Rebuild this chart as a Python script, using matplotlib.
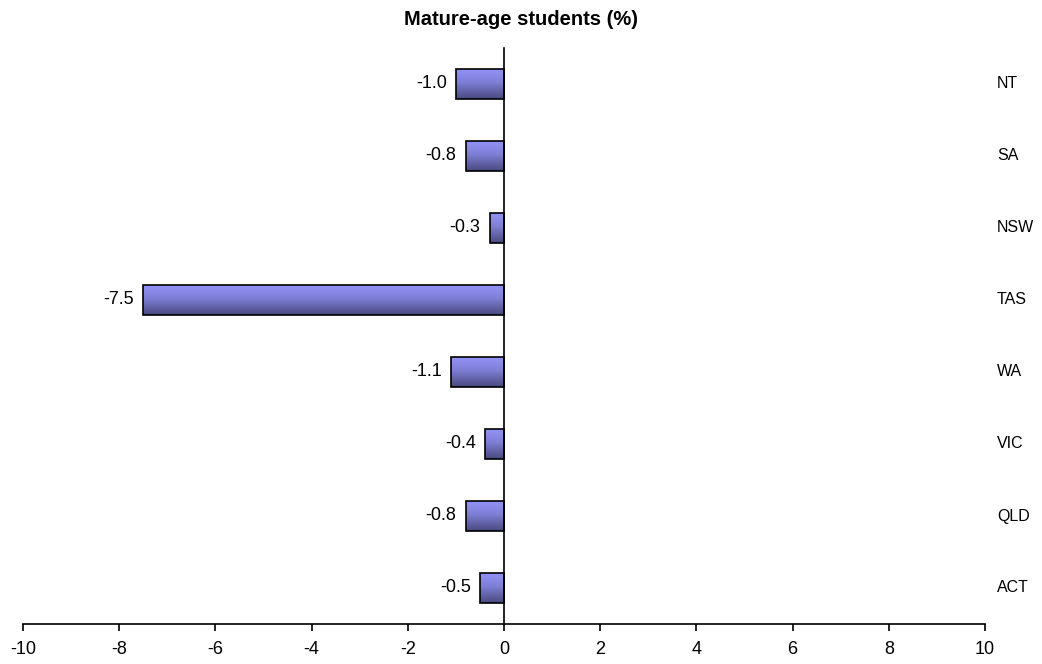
import matplotlib.pyplot as plt
import matplotlib
import numpy as np
from matplotlib.colors import LinearSegmentedColormap
from matplotlib.transforms import blended_transform_factory

matplotlib.rcParams['font.family'] = ['Liberation Sans', 'DejaVu Sans']
matplotlib.rcParams['font.size'] = 12

states = ['NT', 'SA', 'NSW', 'TAS', 'WA', 'VIC', 'QLD', 'ACT']
values = [-1.0, -0.8, -0.3, -7.5, -1.1, -0.4, -0.8, -0.5]
xticks = [-10, -8, -6, -4, -2, 0, 2, 4, 6, 8, 10]

fig = plt.figure(figsize=(10.42, 6.64), dpi=100)
ax = fig.add_axes([23 / 1042, 40 / 664, 962 / 1042, 576 / 664])

ypos = np.arange(len(states))
bars = ax.barh(ypos, values, height=0.42, color='none', edgecolor='black',
               linewidth=1.2, zorder=3)

# vertical gradient fill like the original (light on top, dark at bottom)
cmap = LinearSegmentedColormap.from_list(
    'grad', [(0.0, '#9494f8'), (0.45, '#7f7fd8'), (1.0, '#4a4a80')])
grad = np.linspace(0, 1, 100).reshape(-1, 1)
for b in bars:
    x0, y0 = b.get_x(), b.get_y()
    w, h = b.get_width(), b.get_height()
    im = ax.imshow(grad, cmap=cmap, aspect='auto', origin='upper',
                   extent=[x0, x0 + w, y0 + h, y0], zorder=2)
    im.set_clip_path(b)

for b, v in zip(bars, values):
    ax.annotate('{:.1f}'.format(v), (v, b.get_y() + b.get_height() / 2),
                xytext=(-6.5, 0), textcoords='offset points',
                ha='right', va='center', fontsize=13)

trans = blended_transform_factory(ax.transAxes, ax.transData)
for y, s in zip(ypos, states):
    ax.text(1.0125, y, s, transform=trans, ha='left', va='center', fontsize=11.5)

ax.set_xlim(-10, 10)
ax.set_ylim(len(states) - 0.5, -0.5)
ax.set_xticks(xticks)
ax.set_xticklabels([str(t) for t in xticks], fontsize=13)
ax.set_yticks([])
ax.tick_params(axis='x', direction='out', length=5, width=1.2, pad=7)

for s in ['top', 'right']:
    ax.spines[s].set_visible(False)
ax.spines['left'].set_position(('data', 0))
ax.spines['left'].set_linewidth(1.2)
ax.spines['bottom'].set_linewidth(1.2)
ax.spines['left'].set_zorder(4)

fig.text(0.5, 0.97, 'Mature-age students (%)', ha='center', va='center',
         fontsize=14.5, fontweight='bold')

plt.savefig('out.png', dpi=100)
